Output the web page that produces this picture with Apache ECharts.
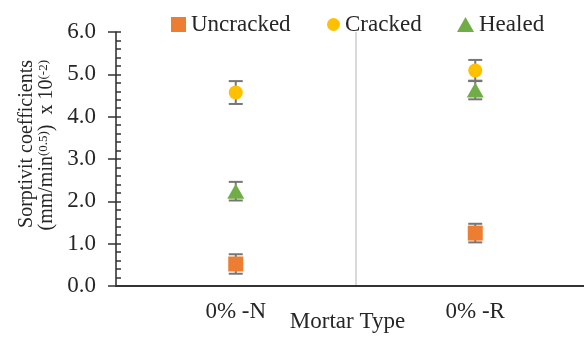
<!DOCTYPE html>
<html>
<head>
<meta charset="utf-8">
<script src="https://cdn.jsdelivr.net/npm/echarts@6/dist/echarts.min.js"></script>
<style>
  html, body { margin: 0; padding: 0; background: #fff; }
  #chart { width: 584px; height: 340px; }
</style>
</head>
<body>
<div id="chart"></div>
<script>
// Mortar types on the category axis
const categories = ['0% -N', '0% -R'];

// Sorptivity coefficient means and error-bar half-widths (x10^-2 mm/min^0.5)
const uncracked = [0.52, 1.25];
const uncrackedErr = [0.23, 0.22];
const cracked = [4.57, 5.09];
const crackedErr = [0.27, 0.25];
const healed = [2.24, 4.63];
const healedErr = [0.22, 0.22];

// Value axis ticks
const yTicks = [0, 1, 2, 3, 4, 5, 6];

const FONT = 'Liberation Serif, Times New Roman, serif';
const TEXT = '#262626';
const FS = 23;

function errorSeries(name, values, errs) {
  return {
    name: name + ' error',
    type: 'custom',
    z: 1,
    silent: true,
    data: values.map((v, i) => [i, v, errs[i]]),
    renderItem: function (params, api) {
      const i = api.value(0);
      const v = api.value(1);
      const e = api.value(2);
      const top = api.coord([i, v + e]);
      const bot = api.coord([i, v - e]);
      const half = 7;
      const style = { stroke: '#767676', lineWidth: 2 };
      return {
        type: 'group',
        children: [
          { type: 'line', shape: { x1: top[0], y1: top[1], x2: bot[0], y2: bot[1] }, style: style },
          { type: 'line', shape: { x1: top[0] - half, y1: top[1], x2: top[0] + half, y2: top[1] }, style: style },
          { type: 'line', shape: { x1: bot[0] - half, y1: bot[1], x2: bot[0] + half, y2: bot[1] }, style: style }
        ]
      };
    }
  };
}

function pointSeries(name, values, symbol, size, color) {
  return {
    name: name,
    type: 'scatter',
    z: 3,
    symbol: symbol,
    symbolSize: size,
    itemStyle: { color: color, opacity: 1 },
    data: values.map((v, i) => [i, v])
  };
}

function legendFor(name, left, w, h, gap) {
  return {
    data: [name],
    left: left,
    top: 13,
    padding: 0,
    itemWidth: w,
    itemHeight: h,
    itemTextGap: gap,
    selectedMode: false,
    textStyle: { fontFamily: FONT, fontSize: FS, color: TEXT }
  };
}

const chart = echarts.init(document.getElementById('chart'), null, { renderer: 'canvas' });

chart.setOption({
  animation: false,
  backgroundColor: '#fff',
  textStyle: { fontFamily: FONT },
  grid: { left: 116, right: -11, top: 32, bottom: 54, containLabel: false, outerBoundsMode: 'none' },
  legend: [
    legendFor('Uncracked', 171, 15, 15, 5),
    legendFor('Cracked', 327, 13, 13, 5),
    legendFor('Healed', 457, 17, 15, 3)
  ],
  xAxis: {
    type: 'category',
    data: categories,
    boundaryGap: true,
    name: 'Mortar Type',
    nameLocation: 'middle',
    nameGap: 24,
    nameMoveOverlap: false,
    nameTextStyle: { fontFamily: FONT, fontSize: FS, color: TEXT, padding: [0, 16, 0, 0] },
    axisLine: { lineStyle: { color: '#333', width: 2 } },
    axisTick: { show: false },
    axisLabel: { margin: 14, fontFamily: FONT, fontSize: FS, color: TEXT },
    splitLine: { show: true, interval: 0, lineStyle: { color: '#D9D9D9', width: 2 } }
  },
  yAxis: [
    {
      type: 'value',
      min: yTicks[0],
      max: yTicks[yTicks.length - 1],
      interval: 1,
      axisLine: { show: true, lineStyle: { color: '#333', width: 1.5 } },
      axisTick: { show: true, inside: false, length: 8, lineStyle: { color: '#333', width: 1.5 } },
      minorTick: { show: false },
      splitLine: { show: false },
      axisLabel: {
        margin: 20,
        fontFamily: FONT,
        fontSize: FS,
        color: TEXT,
        formatter: v => v.toFixed(1)
      }
    },
    {
      type: 'value',
      position: 'left',
      min: yTicks[0],
      max: yTicks[yTicks.length - 1],
      interval: 1,
      axisLine: { show: false },
      axisTick: { show: true, inside: true, length: 5, lineStyle: { color: '#333', width: 1.5 } },
      minorTick: { show: true, splitNumber: 5, length: 5, lineStyle: { color: '#333', width: 1.5 } },
      splitLine: { show: false },
      axisLabel: { show: false }
    }
  ],
  graphic: [
    {
      type: 'text',
      x: 37,
      y: 60,
      rotation: Math.PI / 2,
      style: {
        text: 'Sorptivit coefficients\n{n|(mm/min}{s|(0.5)}{n|)  x 10}{s|(-2)}',
        align: 'right',
        verticalAlign: 'middle',
        fontFamily: FONT,
        fontSize: 20,
        lineHeight: 20,
        fill: TEXT,
        rich: {
          n: { fontFamily: FONT, fontSize: 20, lineHeight: 20, fill: TEXT, color: TEXT },
          s: { fontFamily: FONT, fontSize: 13, lineHeight: 13, verticalAlign: 'top', fill: TEXT, color: TEXT }
        }
      }
    }
  ],
  series: [
    errorSeries('Uncracked', uncracked, uncrackedErr),
    errorSeries('Cracked', cracked, crackedErr),
    errorSeries('Healed', healed, healedErr),
    pointSeries('Uncracked', uncracked, 'rect', 15, '#ED7D31'),
    pointSeries('Cracked', cracked, 'circle', 14, '#FFC000'),
    pointSeries('Healed', healed, 'triangle', [17, 15], '#70AD47')
  ]
});
</script>
</body>
</html>
